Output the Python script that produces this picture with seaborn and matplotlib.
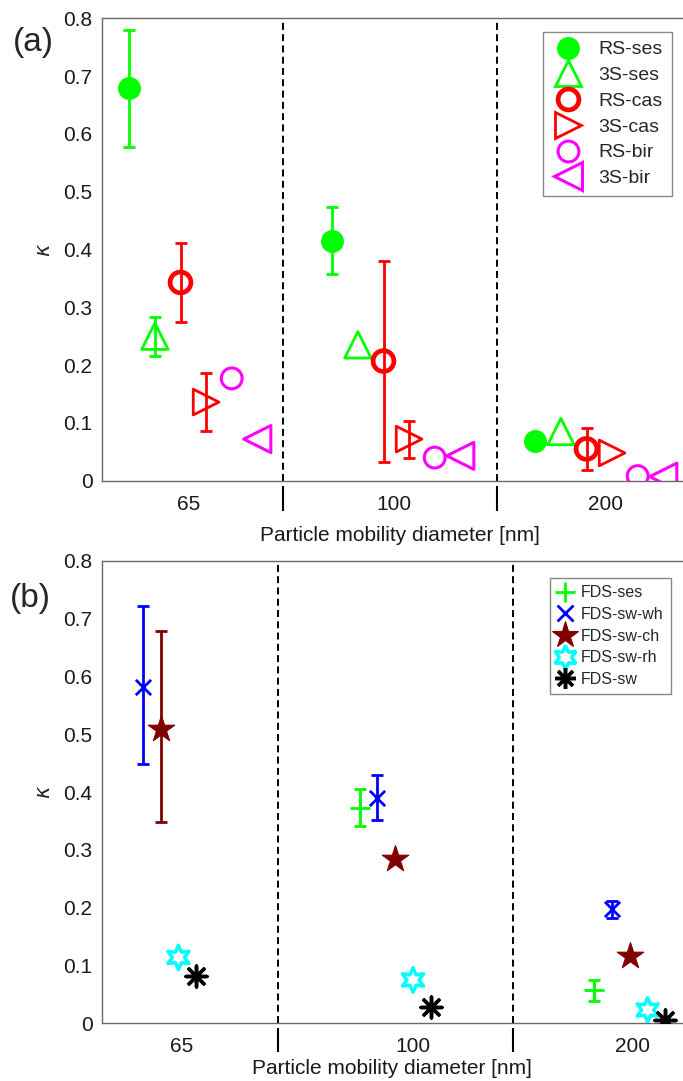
import numpy as np
import pandas as pd
import matplotlib
matplotlib.use("Agg")
import matplotlib.pyplot as plt
from matplotlib.lines import Line2D
import seaborn as sns

nan = np.nan

# ---------------- data ----------------
diameters = ["65", "100", "200"]
yticks = [0, 0.1, 0.2, 0.3, 0.4, 0.5, 0.6, 0.7, 0.8]
ytick_labels = ["0", "0.1", "0.2", "0.3", "0.4", "0.5", "0.6", "0.7", "0.8"]

# panel (a)
a_names = ["RS-ses", "3S-ses", "RS-cas", "3S-cas", "RS-bir", "3S-bir"]
rs_ses = [0.680, 0.415, 0.069]
rs_ses_lo = [0.578, 0.357, nan]
rs_ses_hi = [0.780, 0.473, nan]
s3_ses = [0.250, 0.235, 0.085]
s3_ses_lo = [0.216, nan, nan]
s3_ses_hi = [0.283, nan, nan]
rs_cas = [0.343, 0.207, 0.055]
rs_cas_lo = [0.274, 0.032, 0.019]
rs_cas_hi = [0.412, 0.380, 0.091]
s3_cas = [0.136, 0.072, 0.048]
s3_cas_lo = [0.086, 0.040, nan]
s3_cas_hi = [0.186, 0.104, nan]
rs_bir = [0.177, 0.040, 0.008]
rs_bir_lo = [nan, nan, nan]
rs_bir_hi = [nan, nan, nan]
s3_bir = [0.072, 0.043, 0.007]
s3_bir_lo = [nan, nan, nan]
s3_bir_hi = [nan, nan, nan]

# panel (b)
b_names = ["FDS-ses", "FDS-sw-wh", "FDS-sw-ch", "FDS-sw-rh", "FDS-sw"]
fds_ses = [nan, 0.373, 0.058]
fds_ses_lo = [nan, 0.341, 0.039]
fds_ses_hi = [nan, 0.405, 0.075]
fds_wh = [0.582, 0.389, 0.197]
fds_wh_lo = [0.448, 0.352, 0.182]
fds_wh_hi = [0.722, 0.429, 0.212]
fds_ch = [0.510, 0.284, 0.116]
fds_ch_lo = [0.349, nan, nan]
fds_ch_hi = [0.679, nan, nan]
fds_rh = [0.114, 0.075, 0.023]
fds_rh_lo = [nan, nan, nan]
fds_rh_hi = [nan, nan, nan]
fds_sw = [0.082, 0.029, 0.006]
fds_sw_lo = [nan, nan, nan]
fds_sw_hi = [nan, nan, nan]

a_values = [(rs_ses, rs_ses_lo, rs_ses_hi), (s3_ses, s3_ses_lo, s3_ses_hi),
            (rs_cas, rs_cas_lo, rs_cas_hi), (s3_cas, s3_cas_lo, s3_cas_hi),
            (rs_bir, rs_bir_lo, rs_bir_hi), (s3_bir, s3_bir_lo, s3_bir_hi)]
b_values = [(fds_ses, fds_ses_lo, fds_ses_hi), (fds_wh, fds_wh_lo, fds_wh_hi),
            (fds_ch, fds_ch_lo, fds_ch_hi), (fds_rh, fds_rh_lo, fds_rh_hi),
            (fds_sw, fds_sw_lo, fds_sw_hi)]

# ---------------- styles ----------------
GREEN, RED, MAG = "#00ff00", "#ff0000", "#ff00ff"
BLUE, MAROON, CYAN, BLACK = "#0000ff", "#800000", "#00ffff", "#000000"

a_styles = [
    dict(color=GREEN, marker="o", ms=15.5, filled=True, mew=1.0),
    dict(color=GREEN, marker="^", ms=19, filled=False, mew=2.0),
    dict(color=RED, marker="o", ms=15, filled=False, mew=3.4),
    dict(color=RED, marker=">", ms=18.5, filled=False, mew=2.0),
    dict(color=MAG, marker="o", ms=15, filled=False, mew=2.2),
    dict(color=MAG, marker="<", ms=19.5, filled=False, mew=2.2),
]
b_styles = [
    dict(color=GREEN, marker="+", ms=15, filled=None, mew=2.0),
    dict(color=BLUE, marker="x", ms=11, filled=None, mew=2.0),
    dict(color=MAROON, marker="*", ms=20, filled=True, mew=0.8),
    dict(color=CYAN, marker=(6, 1, 0), ms=17.5, filled=False, mew=2.5),
    dict(color=BLACK, marker=(8, 2, 0), ms=15, filled=None, mew=2.5),
]

sns.set_style("white")
plt.rcParams["font.family"] = ["Liberation Sans", "DejaVu Sans"]
plt.rcParams["mathtext.fontset"] = "dejavusans"

W, H = 683, 1081
fig = plt.figure(figsize=(W / 100, H / 100), dpi=100)
axA = fig.add_axes([102.3 / W, 1 - 480.7 / H, (W - 102.3) / W, 462.4 / H])
axB = fig.add_axes([102.3 / W, 1 - 1023.3 / H, (W - 102.3) / W, 462.4 / H])

SPINE = "#6a6a6a"


def draw_panel(ax, names, values, styles, step, xlim, seps, label_pos,
               xlabel_xy, tick_y):
    n = len(names)
    groups = np.arange(len(diameters), dtype=float)
    for k, (name, (v, lo, hi), st) in enumerate(zip(names, values, styles)):
        x = groups + (k - (n - 1) / 2) * step
        y = np.asarray(v, dtype=float)
        lo = np.asarray(lo, dtype=float)
        hi = np.asarray(hi, dtype=float)
        m = ~np.isnan(lo) & ~np.isnan(y)
        if m.any():
            ax.errorbar(x[m], y[m], yerr=[y[m] - lo[m], hi[m] - y[m]], fmt="none",
                        ecolor=st["color"], elinewidth=2.0, capsize=4.3,
                        capthick=2.0, zorder=3)
        df = pd.DataFrame({"x": x, "y": y}).dropna()
        kw = dict(data=df, x="x", y="y", ax=ax, marker=st["marker"],
                  s=st["ms"] ** 2, legend=False, zorder=4)
        if st["filled"] is None:
            sns.scatterplot(color=st["color"], linewidth=st["mew"], **kw)
        elif st["filled"]:
            sns.scatterplot(color=st["color"], facecolor=st["color"],
                            edgecolor=st["color"], linewidth=st["mew"], **kw)
        else:
            sns.scatterplot(color=st["color"], facecolor="none",
                            edgecolor=st["color"], linewidth=st["mew"], **kw)
    ax.set_xlim(*xlim)
    ax.set_ylim(0, 0.8)
    for s in seps:
        ax.axvline(s, color="k", lw=1.4, ls=(0, (3.6, 2.2)), zorder=1)
        ax.plot([s, s], tick_y, color="k", lw=1.5, solid_capstyle="butt",
                transform=ax.get_xaxis_transform(), clip_on=False)
    ax.set_yticks(yticks)
    ax.set_yticklabels(ytick_labels)
    ax.tick_params(axis="y", direction="in", length=5, width=0.8, color=SPINE,
                   labelsize=15, pad=7, labelcolor="#1a1a1a")
    ax.set_xticks([])
    ax.set_xticks(label_pos, minor=True)
    ax.set_xticklabels(diameters, minor=True)
    ax.tick_params(axis="x", which="minor", length=0, labelsize=15, pad=10,
                   labelcolor="#1a1a1a")
    for side in ["left", "bottom", "top"]:
        ax.spines[side].set_color(SPINE)
        ax.spines[side].set_linewidth(1.0)
    ax.spines["right"].set_visible(False)
    ax.set_ylabel(r"$\kappa$", fontsize=15, rotation=90)
    ax.yaxis.set_label_coords(-0.100, 0.5)
    ax.yaxis.label.set_verticalalignment("center")
    ax.set_xlabel("Particle mobility diameter [nm]", fontsize=15, color="#1a1a1a")
    ax.xaxis.set_label_coords(*xlabel_xy)
    ax.xaxis.label.set_verticalalignment("center")


# panel (a): 203 px per group, 25.6 px between series
draw_panel(axA, a_names, a_values, a_styles, step=25.6 / 203,
           xlim=(-(193.3 - 102.3) / 203, (683 - 193.3) / 203),
           seps=[(282.7 - 193.3) / 203, (497.3 - 193.3) / 203],
           label_pos=[(188.3 - 193.3) / 203, (394.2 - 193.3) / 203, (605.8 - 193.3) / 203],
           xlabel_xy=(0.512, -0.118), tick_y=[-0.0115, -0.0655])

# panel (b): 234.6 px per group, 17.8 px between series
draw_panel(axB, b_names, b_values, b_styles, step=17.8 / 234.6,
           xlim=(-(160.6 - 102.3) / 234.6, (683 - 160.6) / 234.6),
           seps=[0.5, 1.5],
           label_pos=[(182 - 160.6) / 234.6, (413 - 160.6) / 234.6, (632.5 - 160.6) / 234.6],
           xlabel_xy=(0.499, -0.097), tick_y=[-0.010, -0.062])


def handles(styles):
    hs = []
    for st in styles:
        if st["filled"] is None:
            hs.append(Line2D([], [], ls="none", marker=st["marker"], ms=st["ms"],
                             color=st["color"], mew=st["mew"]))
        else:
            hs.append(Line2D([], [], ls="none", marker=st["marker"], ms=st["ms"],
                             mfc=st["color"] if st["filled"] else "none",
                             mec=st["color"], mew=st["mew"]))
    return hs


legA = axA.legend(handles(a_styles), a_names, loc="upper right",
                  bbox_to_anchor=(671.7 / W, 1 - 32 / H), bbox_transform=fig.transFigure,
                  borderaxespad=0, fontsize=14, handlelength=1.6, handletextpad=0.8,
                  labelspacing=0.42, borderpad=0.45, fancybox=False, framealpha=1,
                  edgecolor="#888888", numpoints=1)
legA.get_frame().set_linewidth(1.0)
legB = axB.legend(handles(b_styles), b_names, loc="upper right",
                  bbox_to_anchor=(671 / W, 1 - 578 / H), bbox_transform=fig.transFigure,
                  borderaxespad=0, fontsize=11.5, handlelength=1.0, handletextpad=0.5,
                  labelspacing=0.42, borderpad=0.45, fancybox=False, framealpha=1,
                  edgecolor="#888888", numpoints=1)
legB.get_frame().set_linewidth(1.0)

fig.text(33 / W, 1 - 43 / H, "(a)", fontsize=24, ha="center", va="center")
fig.text(30 / W, 1 - 598 / H, "(b)", fontsize=24, ha="center", va="center")

fig.savefig("out.png", dpi=100)
